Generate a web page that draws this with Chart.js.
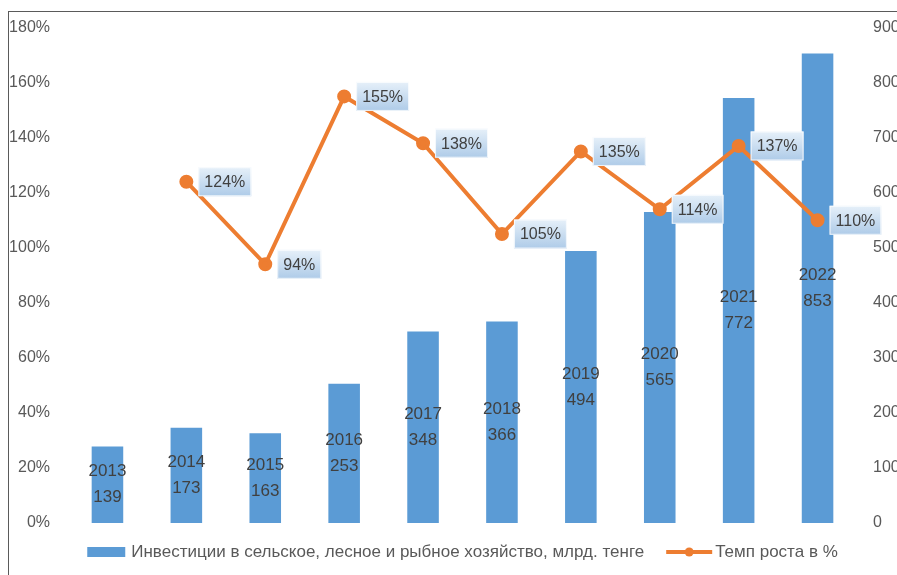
<!DOCTYPE html>
<html>
<head>
<meta charset="utf-8">
<script src="https://cdn.jsdelivr.net/npm/chart.js@4"></script>
<style>
    html, body { margin: 0; padding: 0; background: #fff; overflow: hidden; }
    #wrap { position: relative; width: 897px; height: 575px; }
    #frame {
        position: absolute; left: 8px; top: 11px; right: -5px; bottom: -5px;
        border-top: 1.5px solid #5a5a5a; border-left: 1.5px solid #5a5a5a;
        pointer-events: none;
    }
</style>
</head>
<body>
<div id="wrap">
    <canvas id="myChart" width="897" height="575"></canvas>
    <div id="frame"></div>
</div>
<script>
// Data
const years = ["2013", "2014", "2015", "2016", "2017", "2018", "2019", "2020", "2021", "2022"];
const investments = [139, 173, 163, 253, 348, 366, 494, 565, 772, 853];
const growthRate = [null, 124, 94, 155, 138, 105, 135, 114, 137, 110];
const leftTicks = [0, 20, 40, 60, 80, 100, 120, 140, 160, 180];
const rightTicks = [0, 100, 200, 300, 400, 500, 600, 700, 800, 900];

const barLabel = "Инвестиции в сельское, лесное и рыбное хозяйство, млрд. тенге";
const lineLabel = "Темп роста в %";

const BLUE = "#5B9BD5";
const ORANGE = "#ED7D31";
const FONT = "'Liberation Sans', Arial, sans-serif";

// Labels for bars and line points + bottom legend
const labelsPlugin = {
    id: "customLabels",
    afterDatasetsDraw(chart) {
        const ctx = chart.ctx;
        const barMeta = chart.getDatasetMeta(0);
        const lineMeta = chart.getDatasetMeta(1);

        ctx.save();
        ctx.font = "17px " + FONT;
        ctx.fillStyle = "#404040";
        ctx.textAlign = "center";
        ctx.textBaseline = "middle";
        barMeta.data.forEach((bar, i) => {
            const cy = (bar.y + bar.base) / 2;
            ctx.fillText(years[i], bar.x, cy - 13);
            ctx.fillText(String(investments[i]), bar.x, cy + 13);
        });

        ctx.font = "16px " + FONT;
        lineMeta.data.forEach((pt, i) => {
            if (growthRate[i] === null) return;
            const txt = growthRate[i] + "%";
            const w = ctx.measureText(txt).width + 12;
            const h = 29;
            const bx = pt.x + 12;
            const by = pt.y - h / 2;
            const g = ctx.createLinearGradient(0, by, 0, by + h);
            g.addColorStop(0, "#e6f0f9");
            g.addColorStop(1, "#aecbe8");
            ctx.fillStyle = g;
            ctx.fillRect(bx, by, w, h);
            ctx.strokeStyle = "rgba(255,255,255,0.8)";
            ctx.lineWidth = 1;
            ctx.strokeRect(bx + 0.5, by + 0.5, w - 1, h - 1);
            ctx.fillStyle = "#404040";
            ctx.fillText(txt, bx + w / 2, pt.y + 1);
        });
        ctx.restore();
    },
    afterDraw(chart) {
        const ctx = chart.ctx;
        const area = chart.chartArea;
        ctx.save();
        ctx.font = "17px " + FONT;
        ctx.textBaseline = "middle";
        ctx.textAlign = "left";
        const w1 = ctx.measureText(barLabel).width;
        const w2 = ctx.measureText(lineLabel).width;
        const total = 38 + 6 + w1 + 22 + 46 + 3 + w2;
        let x = (area.left + area.right) / 2 - total / 2;
        const y = 552;

        ctx.fillStyle = BLUE;
        ctx.fillRect(x, y - 5, 38, 10);
        x += 44;
        ctx.fillStyle = "#595959";
        ctx.fillText(barLabel, x, y);
        x += w1 + 22;

        ctx.strokeStyle = ORANGE;
        ctx.lineWidth = 4;
        ctx.beginPath();
        ctx.moveTo(x, y);
        ctx.lineTo(x + 46, y);
        ctx.stroke();
        ctx.fillStyle = ORANGE;
        ctx.beginPath();
        ctx.arc(x + 23, y, 4.5, 0, Math.PI * 2);
        ctx.fill();
        x += 49;
        ctx.fillStyle = "#595959";
        ctx.fillText(lineLabel, x, y);
        ctx.restore();
    }
};

function initChart() {
    const ctx = document.getElementById("myChart");

    const data = {
        labels: years,
        datasets: [
            {
                type: "bar",
                label: barLabel,
                data: investments,
                backgroundColor: BLUE,
                yAxisID: "y1",
                categoryPercentage: 0.8,
                barPercentage: 0.5,
                order: 1,
            },
            {
                type: "line",
                label: lineLabel,
                data: growthRate,
                borderColor: ORANGE,
                backgroundColor: ORANGE,
                borderWidth: 4,
                pointRadius: 5,
                pointBackgroundColor: ORANGE,
                pointBorderColor: ORANGE,
                tension: 0,
                yAxisID: "y",
                order: 0,
            },
        ],
    };

    const tickFont = { family: FONT, size: 16 };

    const config = {
        data: data,
        options: {
            responsive: false,
            animation: false,
            layout: {
                padding: { left: 8, right: 0, top: 27, bottom: 52 },
            },
            plugins: {
                legend: { display: false },
                tooltip: { enabled: false },
            },
            scales: {
                x: {
                    display: false,
                    offset: true,
                },
                y: {
                    position: "left",
                    min: 0,
                    max: 180,
                    afterBuildTicks: (scale) => {
                        scale.ticks = leftTicks.map((v) => ({ value: v }));
                    },
                    afterFit: (scale) => { scale.width = 60; },
                    grid: { display: false, drawTicks: false },
                    border: { display: false },
                    ticks: {
                        padding: 18,
                        color: "#595959",
                        font: tickFont,
                        callback: (v) => v + "%",
                    },
                },
                y1: {
                    position: "right",
                    min: 0,
                    max: 900,
                    afterBuildTicks: (scale) => {
                        scale.ticks = rightTicks.map((v) => ({ value: v }));
                    },
                    afterFit: (scale) => { scale.width = 40; },
                    grid: { display: false, drawTicks: false },
                    border: { display: false },
                    ticks: {
                        padding: 16,
                        color: "#595959",
                        font: tickFont,
                    },
                },
            },
        },
        plugins: [labelsPlugin],
    };

    return new Chart(ctx, config);
}

initChart();
</script>
</body>
</html>
